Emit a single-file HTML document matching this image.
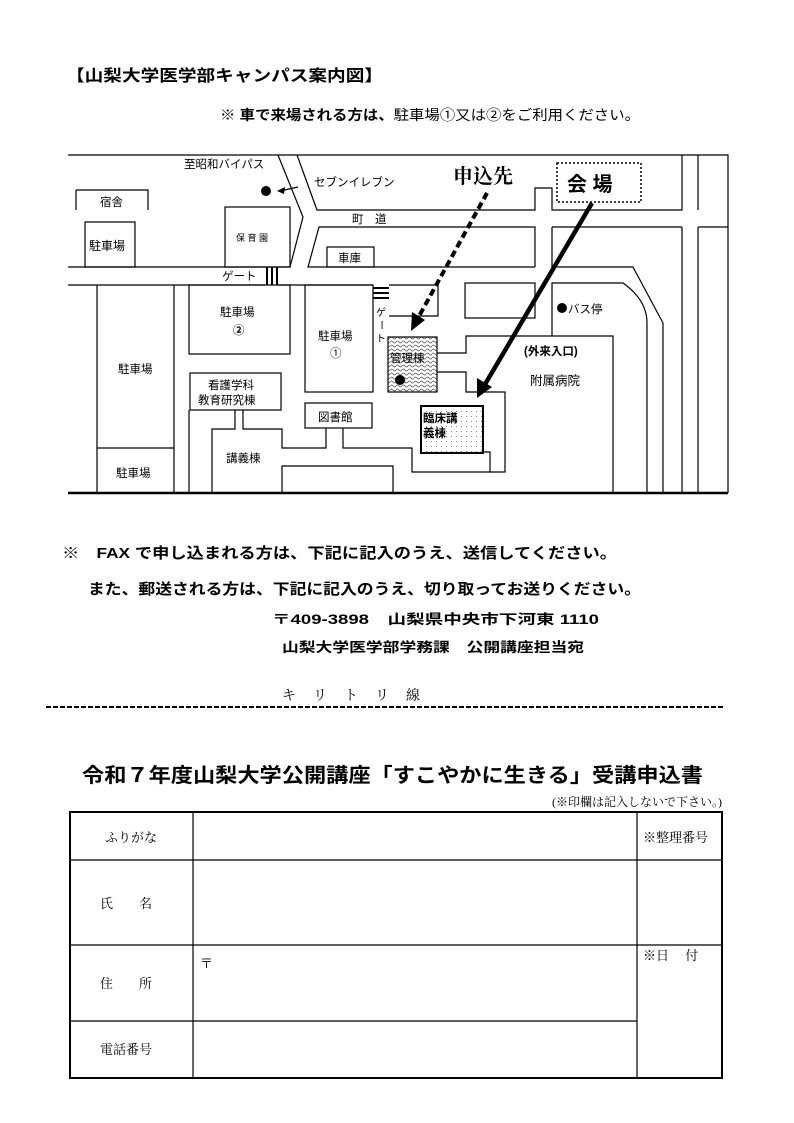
<!DOCTYPE html>
<html><head><meta charset="utf-8"><style>
html,body{margin:0;padding:0;background:#fff}
svg{display:block}
text{font-family:"Liberation Sans","Noto Sans CJK JP",sans-serif;fill:#000}
.s{font-family:"Liberation Serif","Noto Serif CJK SC",serif}
</style></head><body>
<svg width="794" height="1123" viewBox="0 0 794 1123" xmlns="http://www.w3.org/2000/svg">
<defs>
<pattern id="wave" width="6" height="4" patternUnits="userSpaceOnUse"><path d="M0 2 Q1.5 0 3 2 T6 2" fill="none" stroke="#555" stroke-width="0.8"/></pattern>
<pattern id="dots" width="5" height="5" patternUnits="userSpaceOnUse"><rect x="1" y="1" width="1" height="1" fill="#888"/></pattern>
</defs>
<text x="66" y="81" font-size="16" font-weight="bold" textLength="317" lengthAdjust="spacingAndGlyphs">【山梨大学医学部キャンパス案内図】</text>
<text x="220" y="120" font-size="14" textLength="420" lengthAdjust="spacingAndGlyphs"><tspan font-weight="bold">※ 車で来場される方は、</tspan>駐車場①又は②をご利用ください。</text>

<g fill="none" stroke="#000" stroke-width="1.2">
<path d="M68 155 H728 V493"/>
<path d="M278 155 L303 217 L290 267"/>
<path d="M297 155 L317 210 H535 V188 H552 V210 H682 V155"/>
<path d="M698 155 V210"/>
<path d="M68 267 H290"/>
<path d="M535 267 H308 L319 227 H535 V267"/>
<path d="M552 227 V267 H633 L663 323 V493"/>
<path d="M682 227 V493 M698 227 V493"/>
<path d="M552 227 H682 M698 227 H728"/>
<path d="M68 285 H265 M278 285 H373"/>
<path d="M552 336 V283 H623 Q647 300 647 323 V493"/>
<rect x="465" y="283" width="70" height="35"/>
<path d="M437 353 H466 V336 H613 V493"/>
<path d="M437 372 H466 V392 H505 V472 H490 V452 H483"/>
<path d="M389 285 H438 V316 H389"/>
<path d="M76 190 H148 V210 M76 190 V210" />
<rect x="85" y="222" width="50" height="45"/>
<rect x="225" y="207" width="65" height="60"/>
<rect x="327" y="247" width="47" height="20"/>
<path d="M97 285 V493 M174 285 V493 M97 448 H174"/>
<rect x="189" y="285" width="101" height="69"/>
<rect x="305" y="285" width="68" height="107"/>
<rect x="190" y="373" width="91" height="37"/>
<path d="M189 410 V493"/>
<path d="M235 410 V429 H212 V493"/>
<path d="M243 410 V429 H282 V448 H326 V428"/>
<rect x="305" y="403" width="67" height="25"/>
<path d="M343 428 V448 H412 V472 H490"/>
<path d="M282 493 V466 H393 V493"/>
</g>
<rect x="388" y="337" width="49" height="55" fill="url(#wave)" stroke="#000" stroke-width="1.2"/>
<rect x="421" y="406" width="62" height="47" fill="url(#dots)" stroke="#000" stroke-width="2"/>
<path d="M68 493 H728" stroke="#000" stroke-width="2.5"/>
<g stroke="#000" stroke-width="2"><path d="M267 267 V285 M272 267 V285 M277 267 V285"/><path d="M373 288 H389 M373 293 H389 M373 298 H389"/></g>
<circle cx="266" cy="191" r="5"/>
<path d="M298 187 L280 191" stroke="#000" stroke-width="1.2"/><path d="M277 191 L285 187 L284 194 Z"/>
<circle cx="400" cy="380" r="5"/>
<circle cx="562" cy="308" r="5"/>
<path d="M487 193 L418 318" stroke="#000" stroke-width="4" stroke-dasharray="7,4"/>
<path d="M411 331 L412 312 L425 320 Z"/>
<path d="M592 203 L484 386" stroke="#000" stroke-width="4.5"/>
<path d="M477 398 L477 378 L492 387 Z"/>
<rect x="557" y="163" width="84" height="39" fill="none" stroke="#000" stroke-width="1.5" stroke-dasharray="2,2"/>
<g font-size="11.5">
<text x="184" y="168">至昭和バイパス</text>
<text x="314" y="186">セブンイレブン</text>
<text x="352" y="223">町　道</text>
<text x="100" y="206">宿舎</text>
<text x="89" y="250" font-size="12">駐車場</text>
<text x="236" y="241" font-size="9">保 育 園</text>
<text x="338" y="262">車庫</text>
<text x="222" y="280">ゲート</text>
<text x="376" y="316" font-size="10">ゲ</text>
<text x="376" y="328" font-size="10" transform="rotate(90 381 325)">ー</text>
<text x="376" y="342" font-size="10">ト</text>
<text x="220" y="316">駐車場</text>
<text x="233" y="334" font-weight="bold">②</text>
<text x="318" y="340">駐車場</text>
<text x="330" y="357">①</text>
<text x="118" y="373">駐車場</text>
<text x="116" y="477">駐車場</text>
<text x="208" y="389">看護学科</text>
<text x="198" y="404">教育研究棟</text>
<text x="318" y="421">図書館</text>
<text x="226" y="462">講義棟</text>
<text x="390" y="362">管理棟</text>
<text x="423" y="422" font-weight="bold">臨床講</text>
<text x="423" y="437" font-weight="bold">義棟</text>
<text x="524" y="355" font-weight="bold">(外来入口)</text>
<text x="530" y="385" font-size="12.5">附属病院</text>
<text x="568" y="313">バス停</text>
</g>
<text x="453" y="183" font-size="20" font-weight="bold" class="s">申込先</text>
<text x="567" y="191" font-size="20" font-weight="bold">会 場</text>

<text x="62" y="558" font-size="15" font-weight="bold" textLength="555" lengthAdjust="spacingAndGlyphs">※　FAX で申し込まれる方は、下記に記入のうえ、送信してください。</text>
<text x="88" y="594" font-size="15" font-weight="bold" textLength="553" lengthAdjust="spacingAndGlyphs">また、郵送される方は、下記に記入のうえ、切り取ってお送りください。</text>
<text x="272" y="624" font-size="13.5" font-weight="bold" textLength="327" lengthAdjust="spacingAndGlyphs">〒409-3898　山梨県中央市下河東 1110</text>
<text x="282" y="652" font-size="13.5" font-weight="bold" textLength="302" lengthAdjust="spacingAndGlyphs">山梨大学医学部学務課　公開講座担当宛</text>
<text x="282" y="700" font-size="14" class="s" letter-spacing="17">キリトリ線</text>
<path d="M46 707 H724" stroke="#000" stroke-width="2" stroke-dasharray="5,2"/>

<text x="82" y="782" font-size="20" font-weight="bold" textLength="621" lengthAdjust="spacingAndGlyphs">令和７年度山梨大学公開講座「すこやかに生きる」受講申込書</text>
<text x="722" y="806" font-size="12" class="s" text-anchor="end">(※印欄は記入しないで下さい。)</text>
<g fill="none" stroke="#000">
<rect x="70" y="812" width="652" height="266" stroke-width="2"/>
<path d="M193 812 V1078 M637 812 V1078 M70 860 H722 M70 945 H722 M70 1021 H637" stroke-width="1.2"/>
</g>
<g font-size="13" class="s">
<text x="105" y="842" class="s">ふりがな</text>
<text x="643" y="842" class="s">※整理番号</text>
<text x="100" y="908" class="s">氏　　名</text>
<text x="100" y="988" class="s">住　　所</text>
<text x="100" y="1054" class="s">電話番号</text>
<text x="200" y="968" class="s">〒</text>
<text x="643" y="960" class="s">※日　 付</text>
</g>
</svg>
</body></html>
